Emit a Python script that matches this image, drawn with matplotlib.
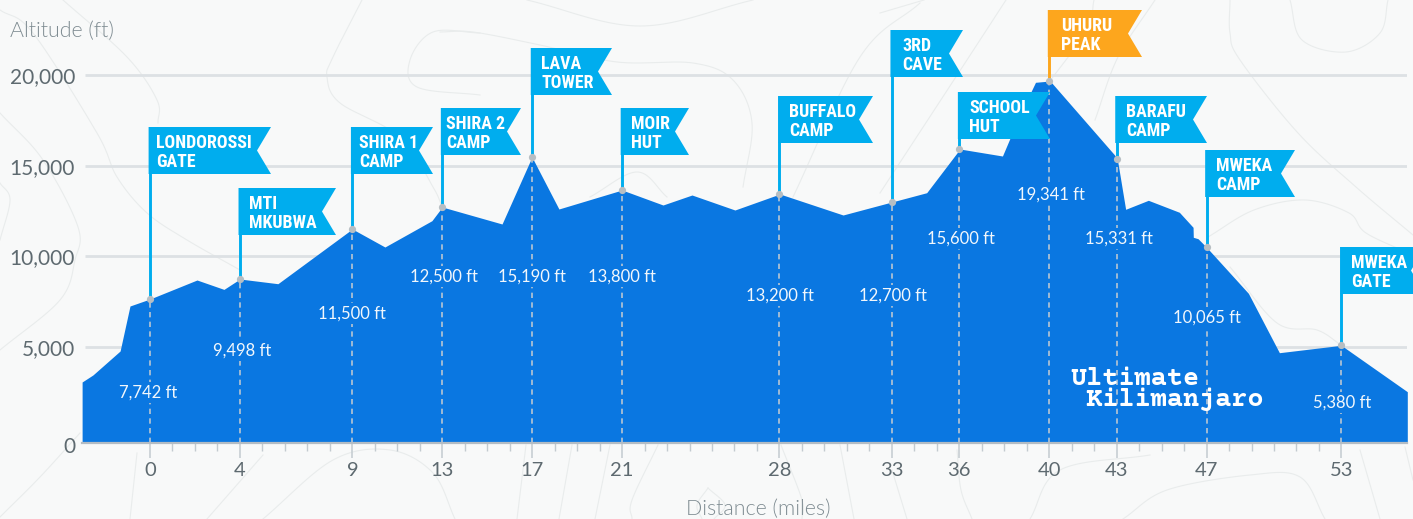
import numpy as np
import matplotlib
matplotlib.use("Agg")
import matplotlib.pyplot as plt
from matplotlib.patches import Polygon
from matplotlib.transforms import ScaledTranslation

# ---------- data ----------
profile_miles = [-3.02, -2.54, -1.33, -0.89, 0.0, 2.09, 3.29, 4.0, 5.69, 9.0, 10.45, 12.54, 13.0,
                 15.66, 16.99, 18.19, 21.0, 22.82, 24.11, 26.02, 28.02, 30.83, 33.0, 34.55, 36.03,
                 37.92, 38.26, 39.19, 39.39, 40.04, 42.91, 43.03, 43.40, 44.41, 45.79, 46.4, 46.41,
                 46.62, 47.0, 48.86, 50.24, 52.99, 55.93]
profile_alt = [3072, 3458, 4781, 7263, 7649, 8696, 8178, 8751, 8492, 11509, 10516, 11966, 12722,
               11785, 15479, 12612, 13659, 12832, 13383, 12556, 13439, 12281, 12998, 13510, 15920,
               15534, 16527, 19080, 19598, 19670, 15589, 15369, 12595, 13091, 12430, 11602, 11051,
               10974, 10500, 7963, 4687, 5095, 2537]

stop_names = ["LONDOROSSI\nGATE", "MTI\nMKUBWA", "SHIRA 1\nCAMP", "SHIRA 2\nCAMP", "LAVA\nTOWER",
              "MOIR\nHUT", "BUFFALO\nCAMP", "3RD\nCAVE", "SCHOOL\nHUT", "UHURU\nPEAK", "BARAFU\nCAMP",
              "MWEKA\nCAMP", "MWEKA\nGATE"]
stop_miles = [0, 4, 9, 13, 17, 21, 28, 33, 36, 40, 43, 47, 53]
stop_marker_alt = [7649, 8751, 11509, 12722, 15479, 13659, 13439, 12998, 15920, 19670, 15369, 10500, 5095]
stop_labels = ["7,742 ft", "9,498 ft", "11,500 ft", "12,500 ft", "15,190 ft", "13,800 ft", "13,200 ft",
               "12,700 ft", "15,600 ft", "19,341 ft", "15,331 ft", "10,065 ft", "5,380 ft"]
y_ticks = [0, 5000, 10000, 15000, 20000]
y_tick_labels = ["0", "5,000", "10,000", "15,000", "20,000"]
grid_values = [5000, 10000, 15000, 20000]

# ---------- layout (pixels) ----------
W, H = 1413, 519
X0_PX, X_SCALE = 150.0, 22.48
Y0_PX, Y_SCALE = 437.7, 90.67 / 5000
LEFT, RIGHT, BASE = 82, 1407, 443
BG, BLUE, CYAN, ORANGE = "#f8f9f9", "#0a77e1", "#00adee", "#fda61d"

flag_top = [127, 188, 127, 108, 48, 108, 96, 30, 92, 10, 96, 150, 247]
flag_right = [271, 336, 433, 521, 612, 689, 873, 963, 1050, 1142, 1207, 1295, 1425]
flag_text_x = [156, 249, 359, 446, 541, 631, 789, 902, 969, 1061, 1126, 1216, 1351]
label_xy = [(148, 392.5), (242, 350.5), (352, 313.5), (444, 276.5), (532, 276.5), (622, 276.5), (780, 295.5),
            (893, 295.5), (961, 238.5), (1051, 194.5), (1119, 238.5), (1207, 317.5), (1342, 402.5)]

contours = [
    [(63, 0), (127, 57), (157, 100), (158, 123)],
    [(0, 10), (33, 33), (97, 133), (117, 177), (147, 213), (187, 240), (240, 270)],
    [(0, 183), (10, 200), (0, 240)],
    [(0, 113), (43, 160), (78, 227), (75, 260), (60, 300), (0, 350)],
    [(362, 0), (333, 57), (327, 77), (340, 103), (400, 137), (433, 187), (442, 207)],
    [(480, 33), (433, 32), (410, 60), (417, 87), (480, 95)],
    [(527, 0), (640, 26), (753, 0)],
    [(440, 32), (473, 32), (540, 45), (617, 62), (693, 63), (733, 80), (752, 123), (743, 187)],
    [(920, 3), (860, 57), (793, 197)],
    [(590, 197), (637, 172), (667, 197)],
    [(0, 517), (40, 477), (80, 433)],
    [(137, 453), (130, 519)],
    [(263, 455), (207, 519)],
    [(263, 519), (333, 460), (390, 450), (433, 473), (455, 519)],
    [(526, 445), (517, 519)], [(572, 445), (559, 519)], [(610, 445), (595, 519)],
    [(658, 445), (632, 500), (632, 519)],
    [(708, 488), (725, 505), (714, 519)], [(708, 488), (697, 505), (702, 519)],
    [(781, 445), (802, 500), (802, 519)],
    [(840, 445), (854, 519)], [(892, 470), (907, 519)],
    [(957, 450), (961, 490), (972, 519)],
    [(1230, 0), (1230, 33), (1240, 60), (1298, 133), (1356, 187), (1413, 235)],
    [(1290, 0), (1302, 40), (1346, 52), (1380, 33), (1388, 0)],
    [(1208, 237), (1254, 210), (1305, 200), (1349, 213), (1366, 233), (1413, 255)],
    [(1230, 267), (1277, 323), (1317, 330), (1341, 345)],
    [(1360, 450), (1380, 519)], [(1405, 447), (1413, 480)],
    [(1030, 519), (1060, 470), (1150, 455)],
    [(1123, 519), (1167, 490), (1250, 475), (1300, 477), (1325, 519)],
    [(924, 0), (880, 13)],
    [(1006, 0), (965, 63), (880, 193)],
    [(1094, 0), (1087, 30), (1050, 81)],
    [(1155, 0), (1118, 57), (1095, 120)],
]


def smooth(points, n=24):
    p = np.array(points, dtype=float)
    if len(p) < 3:
        return p
    p = np.vstack([2 * p[0] - p[1], p, 2 * p[-1] - p[-2]])
    out = []
    for i in range(1, len(p) - 2):
        for t in np.linspace(0, 1, n, endpoint=False):
            out.append(0.5 * ((2 * p[i]) + (p[i + 1] - p[i - 1]) * t
                              + (2 * p[i - 1] - 5 * p[i] + 4 * p[i + 1] - p[i + 2]) * t ** 2
                              + (3 * p[i] - p[i - 1] - 3 * p[i + 1] + p[i + 2]) * t ** 3))
    out.append(p[-2])
    return np.array(out)


fig = plt.figure(figsize=(W / 100, H / 100), dpi=100, facecolor=BG)


def px_axes(z):
    a = fig.add_axes([0, 0, 1, 1], zorder=z)
    a.set_xlim(0, W)
    a.set_ylim(H, 0)
    a.axis("off")
    a.patch.set_alpha(0)
    return a


bg = px_axes(0)
for c in contours:
    s = smooth(c)
    bg.plot(s[:, 0], s[:, 1], color="#e9ecec", lw=0.8)

# main chart axes
ax = fig.add_axes([LEFT / W, (H - BASE) / H, (RIGHT - LEFT) / W, BASE / H], zorder=1)
ax.patch.set_alpha(0)
ax.set_xlim((LEFT - X0_PX) / X_SCALE, (RIGHT - X0_PX) / X_SCALE)
ax.set_ylim((Y0_PX - BASE) / Y_SCALE, Y0_PX / Y_SCALE)
for s in ("top", "left", "right"):
    ax.spines[s].set_visible(False)
ax.spines["bottom"].set_color("#b3bcc4")
ax.spines["bottom"].set_linewidth(1.6)
ax.spines["bottom"].set_zorder(6)

ax.hlines(grid_values, (85 - X0_PX) / X_SCALE, (RIGHT - X0_PX) / X_SCALE, color="#dde1e4", lw=2.0, zorder=1)
ax.fill_between(profile_miles, profile_alt, ax.get_ylim()[0], color=BLUE, lw=0, zorder=2)
ax.vlines(stop_miles, ax.get_ylim()[0], stop_marker_alt, color="#b9c6d2", lw=1.2,
          linestyles=(0, (3.2, 2.6)), zorder=3)

ax.set_xticks(stop_miles)
ax.set_xticklabels([str(m) for m in stop_miles], fontfamily="Lato", fontsize=14.5, color="#5e6a70")
ax.set_xticks(np.arange(0, 54), minor=True)
ax.tick_params(axis="x", which="major", length=11, width=1.1, color="#c3cbd0", pad=3)
ax.tick_params(axis="x", which="minor", length=5.5, width=1.0, color="#c3cbd0")
ax.set_yticks(y_ticks)
ax.set_yticklabels(y_tick_labels, fontfamily="Lato", fontsize=15, color="#5e6a70")
ax.tick_params(axis="y", length=0, pad=5)
for lab in ax.get_yticklabels():
    if lab.get_text() == "0":
        lab.set_transform(lab.get_transform() + ScaledTranslation(0, -7 / 100, fig.dpi_scale_trans))

ax.set_xlabel("Distance (miles)", fontfamily="Lato", fontweight=300, fontsize=15.4, color="#7f8c92", labelpad=0)
ax.xaxis.set_label_coords((758 - LEFT) / (RIGHT - LEFT), -(509 - BASE) / BASE, transform=ax.transAxes)
ax.xaxis.label.set_va("center")
ax.set_ylabel("Altitude (ft)", rotation=0, fontfamily="Lato", fontweight=300, fontsize=15.4,
              color="#7f8c92", ha="left", va="center")
ax.yaxis.set_label_coords((10 - LEFT) / (RIGHT - LEFT), (BASE - 31) / BASE, transform=ax.transAxes)

# overlay: labels, logo, flags
fg = px_axes(2)
for text, (x, y) in zip(stop_labels, label_xy):
    fg.text(x, y, text, ha="center", va="center", fontfamily="Lato", fontsize=12, color="#f2f7fc",
            bbox=dict(facecolor=BLUE, edgecolor="none", pad=1.6))

fg.text(1070, 389, "Ultimate\n Kilimanjaro", ha="left", va="center", multialignment="left",
        fontfamily=["Courier Prime", "Liberation Mono"], fontweight="bold", fontsize=19.4, color="white",
        linespacing=0.82)

pole_x = [ax.transData.transform((m, 0))[0] for m in stop_miles]
dot_y = [H - ax.transData.transform((0, a))[1] for a in stop_marker_alt]
FLAG_H, NOTCH = 47, 14
for name, px, dy, top, right, tx in zip(stop_names, pole_x, dot_y, flag_top, flag_right, flag_text_x):
    color = ORANGE if name.startswith("UHURU") else CYAN
    left = px - 1.4
    fg.plot([px, px], [top + FLAG_H - 1, dy], color=color, lw=2.1, solid_capstyle="butt", zorder=3)
    fg.add_patch(Polygon([(left, top), (right, top), (right - NOTCH, top + FLAG_H / 2), (right, top + FLAG_H),
                          (left, top + FLAG_H)], closed=True, facecolor=color, edgecolor="none", zorder=4,
                         clip_on=True))
    l1, l2 = name.split("\n")
    for line, off in ((l1, 16.3), (l2, 35)):
        fg.text(tx, top + off, line, ha="left", va="center", fontfamily=["Roboto Condensed", "Roboto"],
                fontweight="bold", fontsize=12.9, color="white", zorder=5)
    fg.plot(px, dy, "o", ms=5.2, color="#b7bec3", mec="none", zorder=6)

fig.savefig("out.png", dpi=100, facecolor=BG)
